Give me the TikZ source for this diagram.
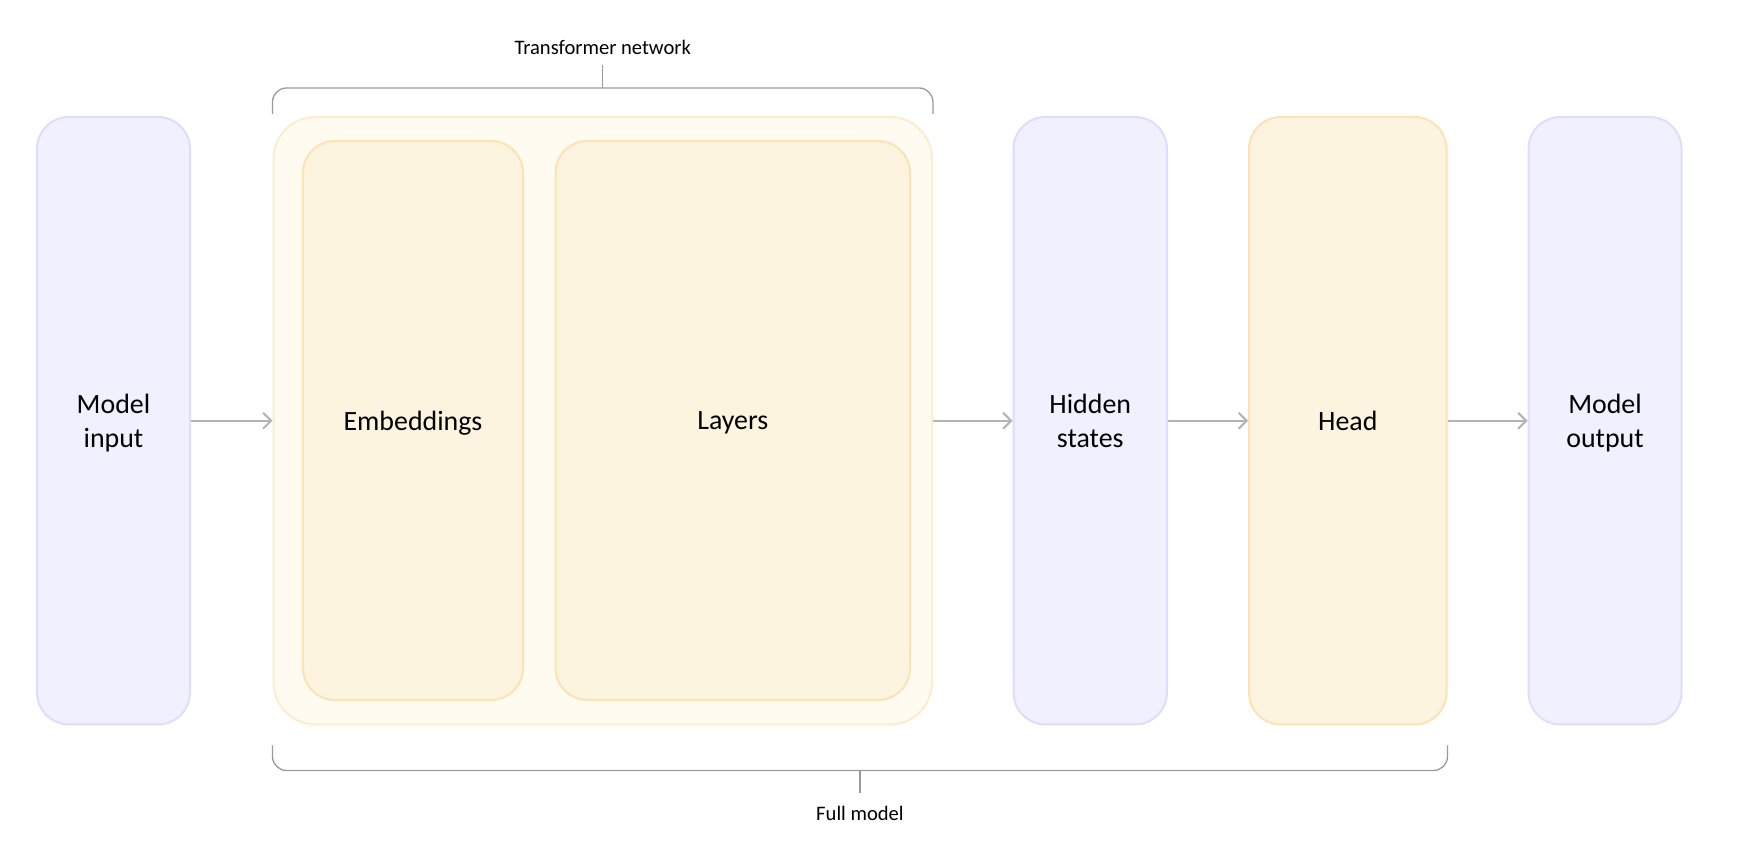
\documentclass[tikz,border=0pt]{standalone}
\usepackage{fontspec}
\setmainfont{Carlito}
\usetikzlibrary{arrows.meta}
\usetikzlibrary{calc}
\definecolor{lavfill}{HTML}{F1F0FE}
\definecolor{lavdraw}{HTML}{DCDEFC}
\definecolor{orgfill}{HTML}{FDF4E0}
\definecolor{orgdraw}{HTML}{FCE2B4}
\definecolor{outfill}{HTML}{FFFBF0}
\definecolor{outdraw}{HTML}{FDECCD}
\definecolor{flowgray}{HTML}{B4B4B4}
\definecolor{bracegray}{HTML}{9A9A9A}
\tikzset{blk/.style = {draw, line width=2pt, rounded corners=32pt, align=center,
                       inner sep=0pt, text depth=0pt, font=\fontsize{27.9}{33.4}\selectfont}}
\tikzset{lav/.style = {blk, draw=lavdraw, fill=lavfill}}
\tikzset{org/.style = {blk, draw=orgdraw, fill=orgfill}}
\tikzset{outer/.style = {blk, draw=outdraw, fill=outfill, rounded corners=42pt}}
\tikzset{flow/.style = {draw=flowgray, line width=2pt,
                        -{Straight Barb[length=8pt, width=16pt, line width=2pt]}}}
\tikzset{brace/.style = {draw=bracegray, line width=1.3pt, rounded corners=14pt}}
\tikzset{tag/.style = {font=\fontsize{20.6}{24}\selectfont}}
\begin{document}
\begin{tikzpicture}[x=1pt, y=1pt]
    \useasboundingbox (0, 0) rectangle (1746, 866);

    \node [lav, minimum width=153, minimum height=607.5] (input) at (113.5, 445.25) {Model\\input};
    \node [outer, minimum width=658.5, minimum height=607.5] (tnet) at (602.75, 445.25) {};
    \node [org, minimum width=220, minimum height=559] (emb) at (413, 445.5) {Embeddings};
    \node [org, minimum width=354.5, minimum height=559] (layers) at (732.75, 445.5) {Layers};
    \node [lav, minimum width=153.5, minimum height=607.5] (hidden) at (1090.25, 445.25) {Hidden\\states};
    \node [org, minimum width=197.5, minimum height=607.5] (head) at (1347.75, 445.25) {Head};
    \node [lav, minimum width=153, minimum height=607.5] (output) at (1605, 445.25) {Model\\output};

    \draw [flow] (input) -- (tnet);
    \draw [flow] (tnet) -- (hidden);
    \draw [flow] (hidden) -- (head);
    \draw [flow] (head) -- (output);

    % transformer bracket
    \coordinate (tl) at ([yshift=28pt]tnet.north west);
    \coordinate (tr) at ([yshift=28pt]tnet.north east);
    \draw [brace] ([yshift=-26pt]tl) -- (tl) -- (tr) -- ([yshift=-26pt]tr);
    \draw [brace] ($(tl)!0.5!(tr)$) -- ++(0, 22.5) node [tag, above=7pt] (tnetlab) {Transformer network};

    % full model bracket
    \coordinate (fl) at ([yshift=-45pt]tnet.south west);
    \coordinate (fr) at (fl -| head.east);
    \draw [brace] ([yshift=25pt]fl) -- (fl) -- (fr) -- ([yshift=25pt]fr);
    \draw [brace] ($(fl)!0.5!(fr)$) -- ++(0, -23) node [tag, below=9pt] (fulllab) {Full model};
\end{tikzpicture}
\end{document}
